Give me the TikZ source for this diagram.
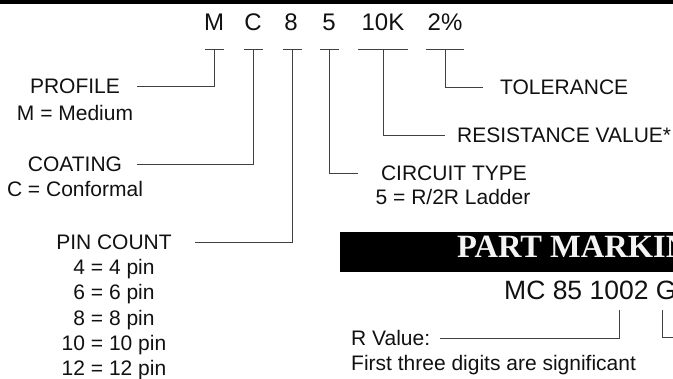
\documentclass[tikz,border=0pt]{standalone}
\usepackage{fontspec}
\setmainfont{Liberation Sans}
\newfontfamily\bannerfont{Liberation Serif}
\definecolor{ink}{HTML}{111111}
\definecolor{wire}{HTML}{404040}
\definecolor{bar}{HTML}{000000}
\definecolor{bartext}{HTML}{F4F4F4}
\tikzset{
  code/.style    ={anchor=base, inner sep=0pt, text=ink, font=\fontsize{24}{28}\selectfont},
  ttl/.style     ={anchor=base, inner sep=0pt, text=ink, font=\fontsize{21}{25}\selectfont},
  val/.style     ={anchor=base, inner sep=0pt, text=ink, font=\fontsize{21}{25}\selectfont},
  marktext/.style={anchor=base west, inner sep=0pt, text=ink, font=\fontsize{26.5}{30}\selectfont},
  banner/.style  ={anchor=base west, inner sep=0pt, text=bartext, font=\bannerfont\bfseries\fontsize{32.5}{36}\selectfont},
  ln/.style      ={draw=wire, line width=1pt},
}

\begin{document}
\begin{tikzpicture}[x=1pt,y=-1pt]
    \useasboundingbox (0,0) rectangle (673,379);
    \clip (0,0) rectangle (673,379);
    \fill[bar] (0,0) rectangle (673,4.5);
    % part number
    \node[code] (cM) at (214,30.5) {M};
    \node[code] (cC) at (253,30.5) {C};
    \node[code] (c8) at (291,30.5) {8};
    \node[code] (c5) at (329,30.5) {5};
    \node[code] (cR) at (383,30.5) {10K};
    \node[code] (cT) at (445,30.5) {2\%};
    \coordinate (tM) at (214,49.5);
    \coordinate (tC) at (253,49.5);
    \coordinate (t8) at (292,49.5);
    \coordinate (t5) at (329,49.5);
    \coordinate (tR) at (383,49.5);
    \coordinate (tT) at (445,49.5);
    \draw[ln] ([xshift=-9.5pt]tM) -- ([xshift=9.5pt]tM);
    \draw[ln] ([xshift=-9.5pt]tC) -- ([xshift=9.5pt]tC);
    \draw[ln] ([xshift=-9.5pt]t8) -- ([xshift=9.5pt]t8);
    \draw[ln] ([xshift=-9.5pt]t5) -- ([xshift=9.5pt]t5);
    \draw[ln] ([xshift=-25pt]tR) -- ([xshift=25pt]tR);
    \draw[ln] ([xshift=-19pt]tT) -- ([xshift=19pt]tT);
    % left labels
    \node[ttl] (profile)  at (75,93.5)  {PROFILE};
    \node[val] (profileV) at (75,120.5) {M = Medium};
    \node[ttl] (coating)  at (75,171.5) {COATING};
    \node[val] (coatingV) at (75,196.5) {C = Conformal};
    \node[ttl] (pins)     at (114,249.5) {PIN COUNT};
    \foreach \n [count=\i] in {4,6,8,10,12}
      \node[val] (pin\n) at (114,249.5+25.2*\i) {\n{} = \n{} pin};
    % right labels
    \node[ttl,anchor=base west] (toler)  at (500,94.5)  {TOLERANCE};
    \node[ttl,anchor=base west] (resist) at (457,142.5) {RESISTANCE VALUE*};
    \node[ttl] (circuit)  at (454,180.5) {CIRCUIT TYPE};
    \node[val] (circuitV) at (453,204.5) {5 = R/2R Ladder};
    \draw[ln] (tM) |- ([xshift=17pt]profile.east);
    \draw[ln] (tC) |- ([xshift=15pt]coating.east);
    \draw[ln] (t8) |- ([xshift=23pt]pins.east);
    \draw[ln] (t5) |- ([xshift=-23pt]circuit.west);
    \draw[ln] (tR) |- ([xshift=-12pt]resist.west);
    \draw[ln] (tT) |- ([xshift=-17pt]toler.west);
    % part marking
    \fill[bar] (340,232) rectangle (673,272);
    \node[banner] (bannerT) at (457,258) {PART MARKING};
    \node[marktext] (marking) at (504,300) {MC 85 1002 G};
    \coordinate (mR) at (619,310);
    \coordinate (mG) at (662,310);
    \coordinate (mGend) at (690,338);
    \node[val,anchor=base west] (rval)  at (351,346) {R Value:};
    \node[val,anchor=base west] (rvalV) at (351,371) {First three digits are significant};
    \draw[ln] (mR) |- ([xshift=9.5pt]rval.east);
    \draw[ln] (mG) |- (mGend);
\end{tikzpicture}
\end{document}
